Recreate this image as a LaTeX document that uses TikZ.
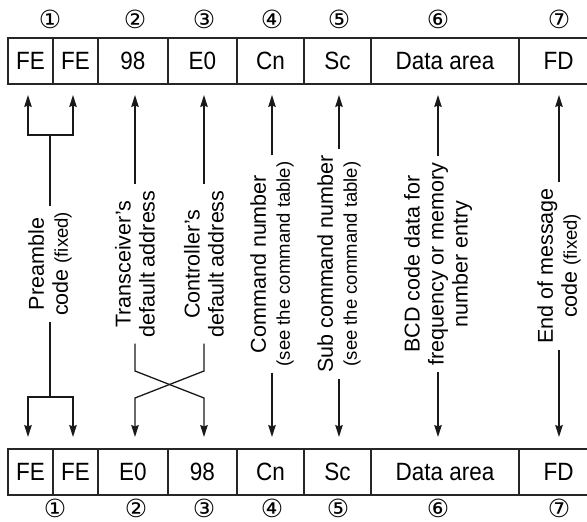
\documentclass[tikz,border=0pt]{standalone}
\usepackage{fontspec}
\setmainfont{Liberation Sans}
\newfontfamily\cellfont[FakeStretch=0.9]{Liberation Sans}
\newfontfamily\circfont{DejaVu Sans}
\usetikzlibrary{arrows.meta}
\begin{document}
\begin{tikzpicture}[x=1pt,y=-1pt,
  cell/.style={draw=black!85, line width=1.5pt, minimum height=46pt, inner sep=0pt, outer sep=0pt,
    font=\cellfont\fontsize{25}{25}\selectfont, anchor=north west},
  lbl/.style={rotate=90, align=center, inner sep=6pt, font=\fontsize{21.5}{24}\selectfont},
  num/.style={font=\circfont\fontsize{25}{25}\selectfont, inner sep=0pt},
  conn/.style={line width=1.3pt, draw=black!90},
  arr/.style={conn, -{Stealth[length=12pt,width=7.5pt,inset=1.5pt]}}
]
\clip (0,0) rectangle (587,522);
% top row
\node[cell, minimum width=45pt] (a1) at (8,38) {FE};
\node[cell, minimum width=45pt] (a2) at (53,38) {FE};
\node[cell, minimum width=70pt] (a3) at (98,38) {98};
\node[cell, minimum width=69pt] (a4) at (168,38) {E0};
\node[cell, minimum width=67pt] (a5) at (237,38) {Cn};
\node[cell, minimum width=67pt] (a6) at (304,38) {Sc};
\node[cell, minimum width=148pt] (a7) at (371,38) {Data area};
\node[cell, minimum width=79pt] (a8) at (519,38) {FD};
% bottom row
\node[cell, minimum width=45pt] (b1) at (8,449) {FE};
\node[cell, minimum width=45pt] (b2) at (53,449) {FE};
\node[cell, minimum width=70pt] (b3) at (98,449) {E0};
\node[cell, minimum width=69pt] (b4) at (168,449) {98};
\node[cell, minimum width=67pt] (b5) at (237,449) {Cn};
\node[cell, minimum width=67pt] (b6) at (304,449) {Sc};
\node[cell, minimum width=148pt] (b7) at (371,449) {Data area};
\node[cell, minimum width=79pt] (b8) at (519,449) {FD};
% circled numbers
\node[num] (n1) at (50,19) {①};
\node[num] (n2) at (135,19) {②};
\node[num] (n3) at (204,19) {③};
\node[num] (n4) at (272,19) {④};
\node[num] (n5) at (339,19) {⑤};
\node[num] (n6) at (438,19) {⑥};
\node[num] (n7) at (559,19) {⑦};
\node[num] (m1) at (55,508) {①};
\node[num] (m2) at (136,508) {②};
\node[num] (m3) at (204,508) {③};
\node[num] (m4) at (272,508) {④};
\node[num] (m5) at (338,508) {⑤};
\node[num] (m6) at (438,508) {⑥};
\node[num] (m7) at (559,508) {⑦};
% labels
\node[lbl] (L1) at (50,264) {Preamble\\code {\fontsize{18.5}{24}\selectfont (fixed)}};
\node[lbl] (L2) at (135,264) {Transceiver’s\\default address};
\node[lbl] (L3) at (204,264) {Controller’s\\default address};
\node[lbl] (L4) at (272,264) {Command number\\{\fontsize{18.5}{24}\selectfont (see the command table)}};
\node[lbl] (L5) at (339,264) {Sub command number\\{\fontsize{18.5}{24}\selectfont (see the command table)}};
\node[lbl] (L6) at (438,264) {BCD code data for\\frequency or memory\\number entry};
\node[lbl] (L7) at (559,266) {End of message\\code {\fontsize{18.5}{24}\selectfont (fixed)}};
% coordinates
\coordinate (t1a) at (28,95);
\coordinate (t1b) at (73,95);
\coordinate (t2) at (135,95);
\coordinate (t3) at (204,95);
\coordinate (t4) at (272,95);
\coordinate (t5) at (339,95);
\coordinate (t6) at (438,95);
\coordinate (t7) at (559,95);
\coordinate (u1a) at (28,437);
\coordinate (u1b) at (73,437);
\coordinate (u2) at (135,437);
\coordinate (u3) at (204,437);
\coordinate (u4) at (272,437);
\coordinate (u5) at (339,437);
\coordinate (u6) at (438,437);
\coordinate (u7) at (559,437);
\coordinate (p1) at (50,135);
\coordinate (p2) at (50,397);
\coordinate (x2a) at (135,371);
\coordinate (x2b) at (204,398);
\coordinate (x3a) at (204,371);
\coordinate (x3b) at (135,398);
% preamble brackets
\draw[conn] (L1.east) -- (p1);
\draw[arr] (p1) -| (t1a);
\draw[arr] (p1) -| (t1b);
\draw[conn] (L1.west) -- (p2);
\draw[arr] (p2) -| (u1a);
\draw[arr] (p2) -| (u1b);
% addresses with crossing
\draw[arr] (L2.east) -- (t2);
\draw[arr] (L3.east) -- (t3);
\draw[arr] (L2.west) -- (x2a) -- (x2b) -- (u3);
\draw[arr] (L3.west) -- (x3a) -- (x3b) -- (u2);
% straight columns
\draw[arr] (L4.east) -- (t4);
\draw[arr] (L4.west) -- (u4);
\draw[arr] (L5.east) -- (t5);
\draw[arr] (L5.west) -- (u5);
\draw[arr] (L6.east) -- (t6);
\draw[arr] (L6.west) -- (u6);
\draw[arr] (L7.east) -- (t7);
\draw[arr] (L7.west) -- (u7);
\end{tikzpicture}
\end{document}
